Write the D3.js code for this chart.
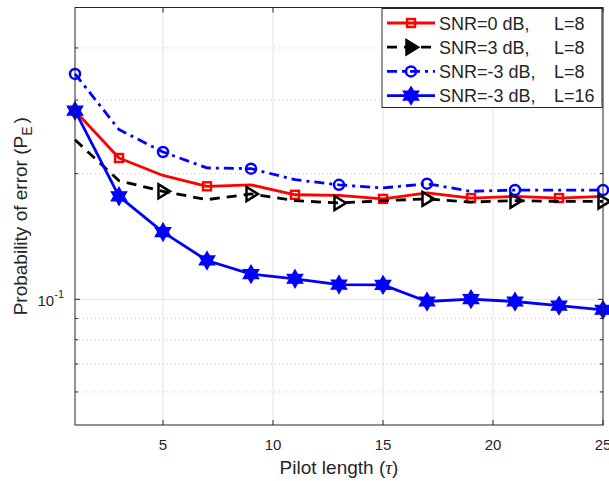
<!DOCTYPE html>
<html><head><meta charset="utf-8">
<script src="https://cdn.jsdelivr.net/npm/d3@7"></script>
<style>body{margin:0;background:#fff}svg{display:block}text{font-family:"Liberation Sans",Arial,sans-serif;fill:#262626}</style>
</head><body>
<svg id="c" width="609" height="481"></svg>
<script>
const xVals = [1,3,5,7,9,11,13,15,17,19,21,23,25];
const snr0_L8   = [0.283,0.218,0.198,0.1865,0.188,0.178,0.1775,0.174,0.1798,0.1748,0.1764,0.1748,0.1764];
const snr3_L8   = [0.241,0.1923,0.1814,0.1733,0.1788,0.1723,0.1701,0.1723,0.174,0.171,0.1723,0.1716,0.1716];
const snrm3_L8  = [0.3467,0.255,0.2254,0.2064,0.2056,0.1934,0.188,0.1848,0.1892,0.1814,0.1827,0.1827,0.1827];
const snrm3_L16 = [0.283,0.1765,0.1449,0.1239,0.1149,0.112,0.1085,0.1083,0.0988,0.1001,0.0988,0.0966,0.0944];
const xTicks = [5,10,15,20,25];
const yMinor = [0.06,0.07,0.08,0.09,0.2,0.3,0.4];
const legendSNR = ["SNR=0 dB,","SNR=3 dB,","SNR=-3 dB,","SNR=-3 dB,"];
const legendL = ["L=8","L=8","L=8","L=16"];

const svg = d3.select("#c");
const L=75, R=603, T=7.5, B=425;
const x = d3.scaleLinear().domain([1,25]).range([L,R]);
const y = d3.scaleLog().domain([0.05,0.5]).range([B,T]);
const axisColor="#262626";

// grids
const g = svg.append("g");
g.selectAll(".xg").data(xTicks.filter(d=>d<25)).join("line")
  .attr("x1",d=>x(d)).attr("x2",d=>x(d)).attr("y1",T).attr("y2",B)
  .attr("stroke","#e3e3e3").attr("stroke-width",1);
g.append("line").attr("x1",L).attr("x2",R).attr("y1",y(0.1)).attr("y2",y(0.1))
  .attr("stroke","#e3e3e3").attr("stroke-width",1);
g.selectAll(".yg").data(yMinor).join("line")
  .attr("x1",L).attr("x2",R).attr("y1",d=>y(d)).attr("y2",d=>y(d))
  .attr("stroke","#c8c8c8").attr("stroke-width",1).attr("stroke-dasharray","1,3");

// series
const line = d3.line().x((d,i)=>x(xVals[i])).y(d=>y(d));
const series = [
  {data:snr0_L8, color:"#ff0000", dash:null, marker:"square", idx:[1,3,5,7,9,11]},
  {data:snr3_L8, color:"#000000", dash:"10,7", marker:"tri", idx:[2,4,6,8,10,12]},
  {data:snrm3_L8, color:"#0000ff", dash:"10,5,3,5", marker:"circle", idx:[0,2,4,6,8,10,12]},
  {data:snrm3_L16, color:"#0000ff", dash:null, marker:"hex", idx:[0,1,2,3,4,5,6,7,8,9,10,11,12]}
];
function hexPath(r){
  const pts=[]; const ri=r/Math.sqrt(3);
  for(let k=0;k<12;k++){const a=-Math.PI/2+k*Math.PI/6; const rr=k%2?ri:r; pts.push([rr*Math.cos(a),rr*Math.sin(a)]);}
  return "M"+pts.map(p=>p.join(",")).join("L")+"Z";
}
function drawMarker(sel, type, color, filled){
  if(type==="square") sel.append("rect").attr("x",-4).attr("y",-4).attr("width",8).attr("height",8)
      .attr("fill","none").attr("stroke",color).attr("stroke-width",2.4);
  else if(type==="tri") sel.append("path").attr("d","M7,0L-4.5,-7L-4.5,7Z")
      .attr("fill",filled?color:"none").attr("stroke",color).attr("stroke-width",2.5).attr("stroke-linejoin","miter");
  else if(type==="circle") sel.append("circle").attr("r",5).attr("fill","none").attr("stroke",color).attr("stroke-width",2.5);
  else if(type==="hex") sel.append("path").attr("d",hexPath(9)).attr("fill",color).attr("stroke",color).attr("stroke-width",1.2);
}
const sg = svg.append("g");
series.forEach(s=>{
  sg.append("path").datum(s.data).attr("d",line).attr("fill","none")
    .attr("stroke",s.color).attr("stroke-width",2.8).attr("stroke-dasharray",s.dash)
    .attr("stroke-linejoin","round");
  s.idx.forEach(i=>{
    const m=sg.append("g").attr("transform",`translate(${x(xVals[i])},${y(s.data[i])})`);
    drawMarker(m,s.marker,s.color,false);
  });
});

// axes box
const ax = svg.append("g");
ax.append("rect").attr("x",L).attr("y",T).attr("width",R-L).attr("height",B-T)
  .attr("fill","none").attr("stroke",axisColor).attr("stroke-width",1);
xTicks.forEach(t=>{
  ax.append("line").attr("x1",x(t)).attr("x2",x(t)).attr("y1",B).attr("y2",B-5).attr("stroke",axisColor);
  ax.append("line").attr("x1",x(t)).attr("x2",x(t)).attr("y1",T).attr("y2",T+5).attr("stroke",axisColor);
  ax.append("text").attr("x",x(t)).attr("y",B+25).attr("text-anchor","middle").attr("font-size",15).text(t);
});
[L,R].forEach((px,k)=>{
  const dir = k===0?1:-1;
  ax.append("line").attr("x1",px).attr("x2",px+dir*5).attr("y1",y(0.1)).attr("y2",y(0.1)).attr("stroke",axisColor);
  yMinor.forEach(v=>ax.append("line").attr("x1",px).attr("x2",px+dir*3).attr("y1",y(v)).attr("y2",y(v)).attr("stroke",axisColor));
});
const yt = ax.append("text").attr("x",L-11).attr("y",y(0.1)+7).attr("text-anchor","end").attr("font-size",15);
yt.append("tspan").text("10");
yt.append("tspan").attr("dy",-8).attr("font-size",11).text("-1");

// labels
const xl = svg.append("text").attr("x",(L+R)/2).attr("y",474).attr("text-anchor","middle").attr("font-size",19);
xl.append("tspan").text("Pilot length (");
xl.append("tspan").attr("font-family","'Liberation Serif','Times New Roman',serif").attr("font-style","italic").text("τ");
xl.append("tspan").text(")");
const yl = svg.append("text").attr("transform",`translate(27,${(T+B)/2}) rotate(-90)`).attr("text-anchor","middle").attr("font-size",19);
yl.append("tspan").text("Probability of error (P");
yl.append("tspan").attr("dy",5).attr("font-size",14).text("E");
yl.append("tspan").attr("dy",-5).attr("dx",3).text(")");

// legend
const lg = svg.append("g");
lg.append("rect").attr("x",382).attr("y",8.5).attr("width",220).attr("height",99)
  .attr("fill","#fff").attr("stroke",axisColor).attr("stroke-width",1);
series.forEach((s,i)=>{
  const yy = 23 + i*24.2;
  lg.append("line").attr("x1",387).attr("x2",435).attr("y1",yy).attr("y2",yy)
    .attr("stroke",s.color).attr("stroke-width",2.8).attr("stroke-dasharray",s.dash);
  drawMarker(lg.append("g").attr("transform",`translate(411,${yy})`),s.marker,s.color,true);
  lg.append("text").attr("x",439).attr("y",yy+6.5).attr("font-size",18).text(legendSNR[i]);
  lg.append("text").attr("x",554).attr("y",yy+6.5).attr("font-size",18).text(legendL[i]);
});
</script>
</body></html>
